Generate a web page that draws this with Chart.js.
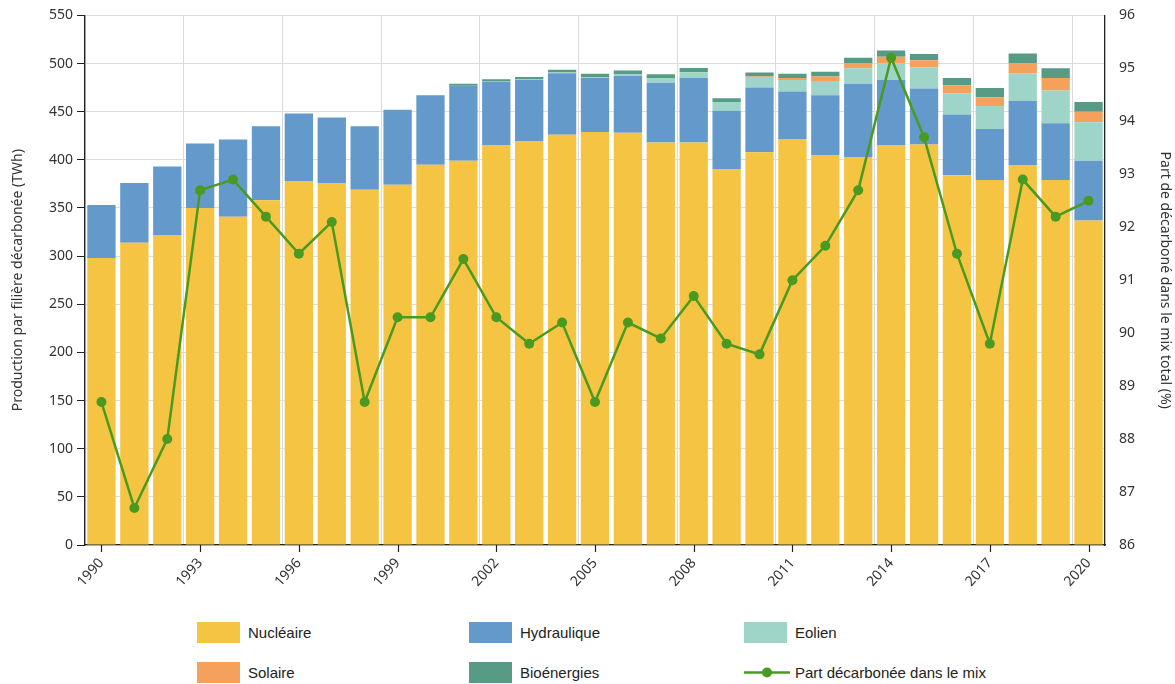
<!DOCTYPE html>
<html>
<head>
<meta charset="utf-8">
<script src="https://cdn.jsdelivr.net/npm/chart.js@4"></script>
<style>
    body { margin: 0; background: #fff; width: 1175px; height: 684px; position: relative; overflow: hidden; }
    #wrap { position: absolute; left: 0; top: -7px; width: 1175px; height: 618px; }
    .leg { position: absolute; font-family: "Liberation Sans Narrow", "Arial Narrow", sans-serif; font-size: 15px; color: #222; }
    .sw { position: absolute; width: 43px; height: 21px; }
    .lab { position: absolute; line-height: 21px; white-space: nowrap; }
</style>
</head>
<body>
<div id="wrap"><canvas id="mixChart"></canvas></div>
<div class="leg" id="legend"></div>
<script>
const years = [];
for (let y = 1990; y <= 2020; y++) years.push(String(y));

const nucleaire   = [298, 314, 322, 350, 341, 358, 378, 376, 369, 374, 395, 399, 415, 419, 426, 429, 428, 418, 418, 390, 408, 421, 405, 403, 415, 416, 384, 379, 394, 379, 337];
const hydraulique = [55, 62, 71, 67, 80, 77, 70, 68, 66, 78, 72, 78, 66, 64, 64, 56, 59, 62, 67, 61, 67, 50, 62, 76, 68, 58, 63, 53, 67, 59, 62];
const eolien      = [0, 0, 0, 0, 0, 0, 0, 0, 0, 0, 0, 0, 0.3, 0.4, 0.6, 1, 2.2, 5, 6, 9, 11, 12, 15, 16, 17, 22, 22, 24, 29, 34, 40];
const solaire     = [0, 0, 0, 0, 0, 0, 0, 0, 0, 0, 0, 0, 0, 0, 0, 0, 0, 0, 0, 0, 0.6, 2, 4.5, 5, 7, 7.5, 8.5, 9, 10.5, 13, 11];
const bioenergies = [0, 0, 0, 0, 0, 0, 0, 0, 0, 0, 0, 2, 2.5, 2.5, 3, 3.5, 3.5, 4, 4.5, 4, 4, 4.5, 5, 6, 6.5, 6.5, 7.5, 9.5, 10, 10, 10];
const partDecarbonee = [88.7, 86.7, 88.0, 92.7, 92.9, 92.2, 91.5, 92.1, 88.7, 90.3, 90.3, 91.4, 90.3, 89.8, 90.2, 88.7, 90.2, 89.9, 90.7, 89.8, 89.6, 91.0, 91.65, 92.7, 95.2, 93.7, 91.5, 89.8, 92.9, 92.2, 92.5];

const leftTicks = { min: 0, max: 550, step: 50 };
const rightTicks = { min: 86, max: 96, step: 1 };

const colors = {
    nucleaire: '#f6c443',
    hydraulique: '#6399cb',
    eolien: '#9fd5c9',
    solaire: '#f5a05b',
    bio: '#579b87',
    line: '#4a9a22'
};

const tickFont = { family: '"Noto Sans", "Open Sans", sans-serif', size: 14 };

// small ticks under the shown year labels (grid lines sit on category edges)
const yearTicks = {
    id: 'yearTicks',
    afterDraw(chart) {
        const x = chart.scales.x;
        const ctx = chart.ctx;
        ctx.save();
        ctx.strokeStyle = '#222';
        ctx.lineWidth = 1.2;
        years.forEach((y, i) => {
            if (i % 3 !== 0) return;
            const px = Math.round(x.getPixelForTick(i)) + 0.5;
            ctx.beginPath();
            ctx.moveTo(px, x.top);
            ctx.lineTo(px, x.top + 7);
            ctx.stroke();
        });
        ctx.restore();
    }
};

function barSet(label, data, color) {
    return {
        type: 'bar',
        label: label,
        data: data,
        backgroundColor: color,
        yAxisID: 'y',
        order: 1,
        barPercentage: 0.86,
        categoryPercentage: 1
    };
}

const ctx = document.getElementById('mixChart');
new Chart(ctx, {
    data: {
        labels: years,
        datasets: [
            {
                type: 'line',
                label: 'Part décarbonée dans le mix',
                data: partDecarbonee,
                yAxisID: 'y1',
                borderColor: colors.line,
                backgroundColor: colors.line,
                borderWidth: 2.5,
                pointRadius: 5,
                pointBorderWidth: 0,
                tension: 0,
                order: 0
            },
            barSet('Nucléaire', nucleaire, colors.nucleaire),
            barSet('Hydraulique', hydraulique, colors.hydraulique),
            barSet('Eolien', eolien, colors.eolien),
            barSet('Solaire', solaire, colors.solaire),
            barSet('Bioénergies', bioenergies, colors.bio)
        ]
    },
    options: {
        responsive: true,
        maintainAspectRatio: false,
        animation: false,
        layout: { padding: { top: 8, left: 0, right: 0, bottom: 0 } },
        plugins: { legend: { display: false }, tooltip: { enabled: false } },
        scales: {
            x: {
                stacked: true,
                offset: true,
                grid: {
                    offset: true,
                    color: c => (c.index % 3 === 0 ? '#d9d9d9' : 'rgba(0,0,0,0)'),
                    tickColor: 'rgba(0,0,0,0)',
                    tickLength: 8
                },
                border: { color: '#222', width: 1.3 },
                ticks: {
                    autoSkip: false,
                    minRotation: 48,
                    maxRotation: 48,
                    padding: 2,
                    color: '#333',
                    font: tickFont,
                    callback: function (v, i) { return i % 3 === 0 ? years[i] : ''; }
                },
                afterFit: s => { s.height = 66; }
            },
            y: {
                stacked: true,
                position: 'left',
                min: leftTicks.min,
                max: leftTicks.max,
                grid: { color: '#dcdcdc', tickColor: '#222', tickLength: 8 },
                border: { color: '#222', width: 1.3 },
                ticks: { stepSize: leftTicks.step, color: '#333', font: tickFont, padding: 4 },
                title: {
                    display: true,
                    text: 'Production par filière décarbonée (TWh)',
                    color: '#333',
                    font: tickFont,
                    padding: { top: 10, bottom: 0 }
                },
                afterFit: s => { s.width = 85; }
            },
            y1: {
                position: 'right',
                min: rightTicks.min,
                max: rightTicks.max,
                grid: { drawOnChartArea: false, tickLength: 0, tickColor: 'rgba(0,0,0,0)' },
                border: { color: '#222', width: 1.3 },
                ticks: { stepSize: rightTicks.step, color: '#333', font: tickFont, padding: 14 },
                title: {
                    display: true,
                    text: 'Part de décarboné dans le mix total (%)',
                    color: '#333',
                    font: tickFont,
                    padding: { top: 2, bottom: 0 }
                },
                afterFit: s => { s.width = 70; }
            }
        }
    },
    plugins: [yearTicks]
});

// legend below the chart
const legendItems = [
    { label: 'Nucléaire', color: colors.nucleaire, x: 197, y: 622 },
    { label: 'Hydraulique', color: colors.hydraulique, x: 469, y: 622 },
    { label: 'Eolien', color: colors.eolien, x: 744, y: 622 },
    { label: 'Solaire', color: colors.solaire, x: 197, y: 662 },
    { label: 'Bioénergies', color: colors.bio, x: 469, y: 662 },
    { label: 'Part décarbonée dans le mix', color: colors.line, x: 744, y: 662, line: true }
];
const legend = document.getElementById('legend');
legendItems.forEach(item => {
    if (item.line) {
        const c = document.createElement('canvas');
        c.width = 46; c.height = 21;
        c.style.position = 'absolute';
        c.style.left = item.x + 'px';
        c.style.top = item.y + 'px';
        const g = c.getContext('2d');
        g.strokeStyle = item.color; g.lineWidth = 2.5;
        g.beginPath(); g.moveTo(0, 10.5); g.lineTo(46, 10.5); g.stroke();
        g.fillStyle = item.color;
        g.beginPath(); g.arc(23, 10.5, 5, 0, Math.PI * 2); g.fill();
        legend.appendChild(c);
    } else {
        const sw = document.createElement('div');
        sw.className = 'sw';
        sw.style.left = item.x + 'px';
        sw.style.top = item.y + 'px';
        sw.style.background = item.color;
        legend.appendChild(sw);
    }
    const lab = document.createElement('div');
    lab.className = 'lab';
    lab.textContent = item.label;
    lab.style.left = (item.x + 51) + 'px';
    lab.style.top = item.y + 'px';
    legend.appendChild(lab);
});
</script>
</body>
</html>
